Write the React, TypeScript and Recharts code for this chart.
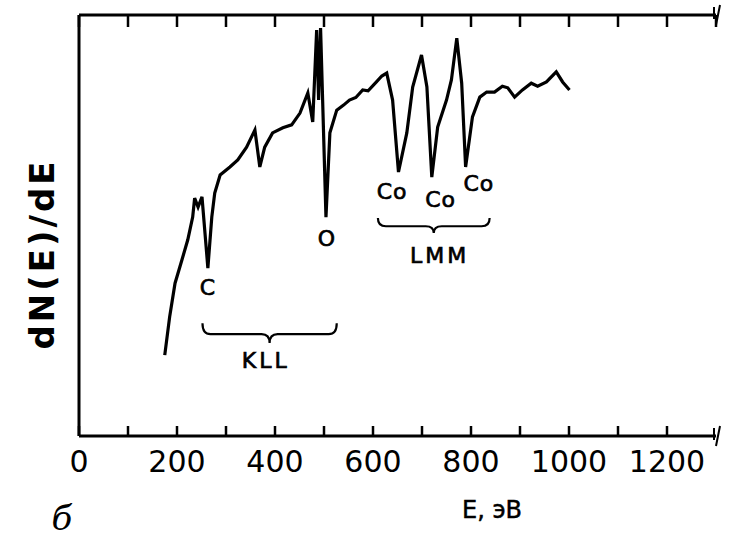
import React from 'react';
import {
  LineChart,
  Line,
  XAxis,
  YAxis,
  CartesianGrid,
  ReferenceArea,
  ReferenceDot
} from 'recharts';

// electron energy, eV
const energy = [
  175, 185, 196, 210, 222, 232, 236, 243, 251, 263, 271, 277, 288, 308, 324, 342, 359, 369,
  379, 395, 416, 434, 451, 467, 477, 485, 489, 493, 504, 512, 526, 540, 552, 565, 579, 590,
  607, 618, 628, 640, 652, 669, 681, 699, 710, 720, 732, 750, 760, 771, 781, 789, 803, 818,
  832, 848, 864, 875, 889, 905, 923, 936, 954, 974, 987, 1001
];

// dN(E)/dE, arbitrary units
const signal = [
  19.2, 28.3, 36.3, 41.8, 46.6, 52.0, 56.5, 54.4, 56.8, 39.9, 52.0, 57.7, 62.0, 63.9, 65.6, 68.6, 72.7, 63.9,
  68.6, 72.0, 73.2, 73.9, 76.7, 81.5, 74.6, 96.4, 79.8, 96.9, 52.0, 72.0, 77.4, 78.6, 79.8, 80.4, 82.2, 82.0,
  84.1, 85.5, 86.2, 79.8, 62.7, 72.0, 82.9, 90.5, 82.9, 61.5, 73.4, 79.8, 84.6, 94.5, 83.8, 63.9, 75.8, 80.5,
  81.7, 81.7, 83.1, 82.7, 80.5, 82.2, 83.8, 83.1, 84.1, 86.5, 84.1, 82.2
];

const xTicks = [0, 100, 200, 300, 400, 500, 600, 700, 800, 900, 1000, 1100, 1200];

// peak labels: text, energy, level
const peakNames = ['C', 'O', 'Co', 'Co', 'Co'];
const peakE = [263, 506, 639, 738, 816];
const peakY = [35.2, 47.0, 58.1, 56.2, 59.9];

// transition groups: name, from, to, brace bottom/top, label level
const groupNames = ['KLL', 'LMM'];
const groupFrom = [252, 610];
const groupTo = [526, 838];
const braceLow = [22.1, 48.2];
const braceHigh = [26.8, 51.8];
const groupLabelE = [381, 736];
const groupLabelY = [18.0, 42.9];

const data = energy.map((e, i) => ({ e, v: signal[i] }));

const font = '"DejaVu Sans", sans-serif';

const Brace = (props: any) => {
  const { x, y, width, height } = props;
  const hm = y + height * 0.55;
  const cx = x + width / 2;
  const r = 8;
  const d = `M${x},${y} Q${x},${hm} ${x + r},${hm} L${cx - r},${hm} Q${cx},${hm} ${cx},${y + height}` +
    ` Q${cx},${hm} ${cx + r},${hm} L${x + width - r},${hm} Q${x + width},${hm} ${x + width},${y}`;
  return <path d={d} fill="none" stroke="#000" strokeWidth={2.2} />;
};

const textShape = (value: string, size: number, spacing = 0) => (props: any) => (
  <text
    x={props.cx}
    y={props.cy}
    textAnchor="middle"
    dominantBaseline="central"
    fontFamily={font}
    fontSize={size}
    letterSpacing={spacing}
    fill="#000"
    stroke="#000"
    strokeWidth={0.7}
  >
    {value}
  </text>
);

const BreakMark = (props: any) => (
  <path
    d={`M${props.cx - 2},${props.cy - 8} L${props.cx - 2},${props.cy + 4} M${props.cx},${props.cy + 10} L${props.cx + 4},${props.cy - 10}`}
    stroke="#000"
    strokeWidth={2}
    fill="none"
  />
);

const App: React.FC = () => {
  return (
    <div style={{ position: 'absolute', left: 0, top: 0, background: '#fff' }}>
      <LineChart width={731} height={538} data={data} margin={{ top: 14, right: 15, left: 78, bottom: 62 }}>
        {/* vertical grid dashed so only a short stub shows under the top frame */}
        <CartesianGrid
          xAxisId="bottom"
          horizontal={false}
          vertical
          stroke="#000"
          strokeWidth={2.5}
          strokeDasharray="12 600"
        />
        <XAxis
          xAxisId="bottom"
          dataKey="e"
          type="number"
          domain={[0, 1300]}
          ticks={xTicks}
          allowDataOverflow
          height={40}
          tickSize={-10}
          tickMargin={25}
          interval={0}
          tickFormatter={(v: number) => (v % 200 === 0 ? String(v) : '')}
          tick={{ fontFamily: font, fontSize: 30, fill: '#000' }}
          axisLine={{ stroke: '#000', strokeWidth: 3 }}
          tickLine={{ stroke: '#000', strokeWidth: 2.5 }}
          label={{
            content: (p: any) => (
              <g>
                <text x={p.viewBox.x + 413} y={518} textAnchor="middle" fontFamily={font} fontSize={24} fill="#000" stroke="#000" strokeWidth={0.5}>
                  E, эВ
                </text>
                <text x={62} y={530} textAnchor="middle" fontFamily='"DejaVu Serif", serif' fontStyle="italic" fontSize={34} fill="#000">
                  б
                </text>
              </g>
            )
          }}
        />
        <XAxis
          xAxisId="top"
          orientation="top"
          type="number"
          domain={[0, 1300]}
          allowDataOverflow
          height={1}
          tick={false}
          tickLine={false}
          axisLine={{ stroke: '#000', strokeWidth: 3 }}
        />
        <YAxis
          type="number"
          domain={[0, 100]}
          width={1}
          tick={false}
          tickLine={false}
          axisLine={{ stroke: '#000', strokeWidth: 3 }}
          label={{
            content: (p: any) => {
              const cx = 42;
              const cy = p.viewBox.y + 239;
              return (
                <text
                  x={cx}
                  y={cy}
                  transform={`rotate(-90 ${cx} ${cy})`}
                  textAnchor="middle"
                  dominantBaseline="central"
                  fontFamily={font}
                  fontWeight="bold"
                  fontSize={34}
                  letterSpacing={3}
                  fill="#000"
                >
                  dN(E)/dE
                </text>
              );
            }
          }}
        />
        <Line
          xAxisId="bottom"
          type="linear"
          dataKey="v"
          stroke="#000"
          strokeWidth={3.2}
          dot={false}
          isAnimationActive={false}
        />
        {groupNames.map((g, i) => (
          <ReferenceArea
            key={`brace-${g}`}
            xAxisId="bottom"
            x1={groupFrom[i]}
            x2={groupTo[i]}
            y1={braceLow[i]}
            y2={braceHigh[i]}
            shape={Brace}
          />
        ))}
        {groupNames.map((g, i) => (
          <ReferenceDot
            key={`group-${g}`}
            xAxisId="bottom"
            x={groupLabelE[i]}
            y={groupLabelY[i]}
            shape={textShape(g, 22, 3)}
          />
        ))}
        {peakNames.map((n, i) => (
          <ReferenceDot
            key={`peak-${i}`}
            xAxisId="bottom"
            x={peakE[i]}
            y={peakY[i]}
            shape={textShape(n, 22, 1)}
          />
        ))}
        <ReferenceDot xAxisId="bottom" x={1300} y={0} ifOverflow="visible" shape={BreakMark} />
        <ReferenceDot xAxisId="bottom" x={1300} y={100} ifOverflow="visible" shape={BreakMark} />
      </LineChart>
    </div>
  );
};

export default App;
